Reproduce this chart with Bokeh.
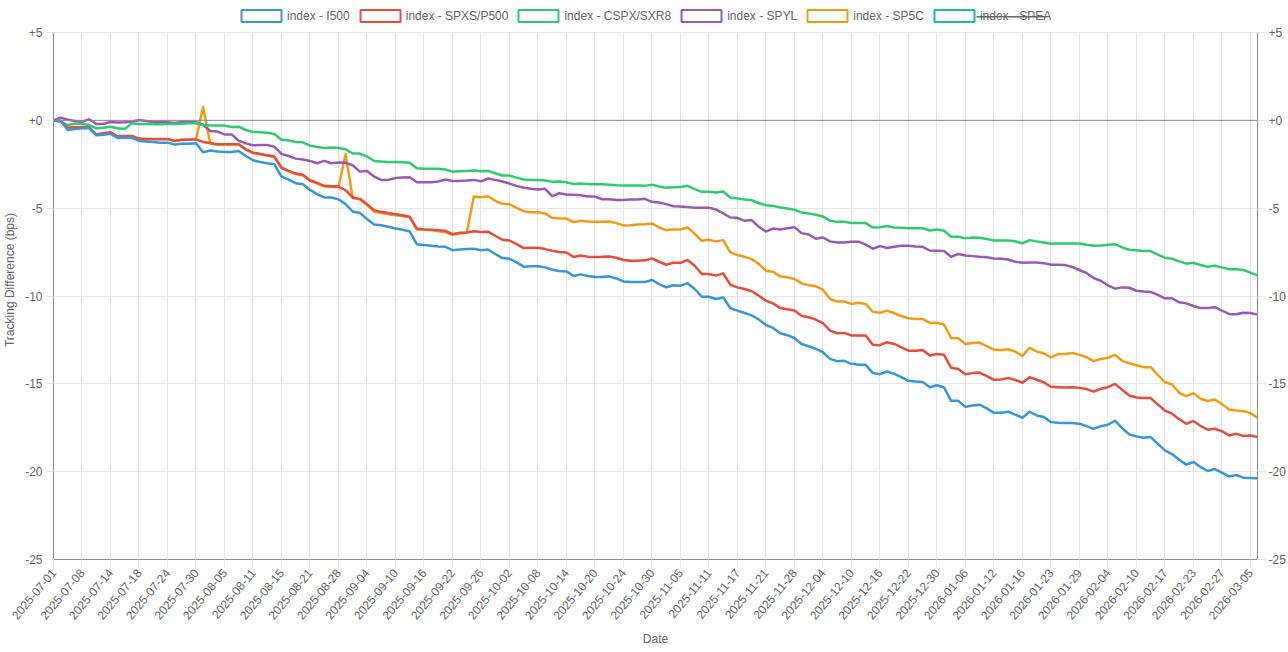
import math
import pandas as pd
from bokeh.plotting import figure
from bokeh.models import (Range1d, FixedTicker, LinearAxis, Span, Legend, LegendItem, BoxAnnotation)
from bokeh.embed import file_html
from bokeh.resources import INLINE

# ---------------- data ----------------
closed_days = ["2025-07-04", "2025-08-25", "2025-09-01", "2025-11-27", "2025-12-25",
               "2025-12-26", "2026-01-01", "2026-01-19", "2026-02-16"]
dates = [d.strftime("%Y-%m-%d") for d in pd.bdate_range("2025-07-01", "2026-03-06")
         if d.strftime("%Y-%m-%d") not in closed_days]

i500 = [
    0, -0.04, -0.55, -0.5, -0.45, -0.45, -0.85, -0.82, -0.76, -1.0,
    -0.98, -1.0, -1.17, -1.21, -1.23, -1.27, -1.27, -1.38, -1.33, -1.33,
    -1.31, -1.82, -1.72, -1.78, -1.8, -1.8, -1.74, -2.03, -2.27, -2.37,
    -2.44, -2.5, -3.2, -3.37, -3.58, -3.64, -3.96, -4.2, -4.39, -4.39,
    -4.5, -4.77, -5.19, -5.27, -5.62, -5.93, -5.97, -6.06, -6.16, -6.23,
    -6.33, -7.05, -7.1, -7.14, -7.18, -7.2, -7.39, -7.35, -7.33, -7.31,
    -7.39, -7.35, -7.61, -7.84, -7.88, -8.09, -8.33, -8.31, -8.31, -8.37,
    -8.5, -8.58, -8.6, -8.86, -8.77, -8.86, -8.92, -8.92, -8.88, -9.0,
    -9.17, -9.2, -9.2, -9.2, -9.09, -9.32, -9.51, -9.39, -9.41, -9.28,
    -9.6, -10.04, -10.04, -10.17, -10.08, -10.7, -10.83, -10.97, -11.1, -11.34,
    -11.65, -11.82, -12.12, -12.23, -12.39, -12.73, -12.86, -13.01, -13.2, -13.58,
    -13.71, -13.69, -13.86, -13.92, -13.92, -14.38, -14.45, -14.3, -14.43, -14.62,
    -14.83, -14.87, -14.89, -15.19, -15.08, -15.21, -15.97, -15.97, -16.31, -16.23,
    -16.19, -16.4, -16.65, -16.65, -16.59, -16.75, -16.93, -16.59, -16.8, -16.89,
    -17.18, -17.22, -17.23, -17.23, -17.27, -17.41, -17.56, -17.41, -17.33, -17.1,
    -17.52, -17.88, -17.99, -18.07, -18.03, -18.41, -18.79, -19.0, -19.32, -19.6,
    -19.45, -19.73, -19.96, -19.85, -20.06, -20.27, -20.19, -20.34, -20.36, -20.38,
]
spxs_p500 = [
    0, -0.04, -0.42, -0.4, -0.38, -0.4, -0.8, -0.74, -0.68, -0.91,
    -0.89, -0.89, -1.04, -1.06, -1.06, -1.06, -1.06, -1.17, -1.1, -1.1,
    -1.08, -1.23, -1.29, -1.36, -1.36, -1.36, -1.36, -1.65, -1.84, -1.91,
    -1.99, -2.06, -2.69, -2.88, -3.03, -3.1, -3.41, -3.56, -3.73, -3.75,
    -3.77, -3.98, -4.39, -4.47, -4.77, -5.11, -5.21, -5.28, -5.34, -5.4,
    -5.49, -6.16, -6.21, -6.23, -6.25, -6.29, -6.48, -6.4, -6.38, -6.31,
    -6.36, -6.34, -6.57, -6.8, -6.84, -7.05, -7.27, -7.25, -7.25, -7.33,
    -7.42, -7.5, -7.52, -7.78, -7.69, -7.77, -7.78, -7.77, -7.75, -7.82,
    -7.95, -7.99, -7.99, -7.97, -7.86, -8.05, -8.22, -8.11, -8.11, -7.95,
    -8.28, -8.75, -8.75, -8.84, -8.71, -9.36, -9.51, -9.6, -9.73, -9.98,
    -10.27, -10.42, -10.68, -10.76, -10.83, -11.12, -11.21, -11.34, -11.55, -11.97,
    -12.12, -12.1, -12.25, -12.25, -12.25, -12.77, -12.8, -12.63, -12.73, -12.92,
    -13.11, -13.11, -13.07, -13.39, -13.3, -13.35, -14.09, -14.15, -14.45, -14.39,
    -14.36, -14.56, -14.77, -14.75, -14.66, -14.78, -14.94, -14.62, -14.77, -14.91,
    -15.17, -15.19, -15.21, -15.19, -15.23, -15.3, -15.44, -15.28, -15.19, -15.0,
    -15.34, -15.66, -15.78, -15.81, -15.81, -16.17, -16.52, -16.7, -17.01, -17.27,
    -17.12, -17.39, -17.61, -17.56, -17.69, -17.94, -17.84, -17.97, -17.94, -18.03,
]
cspx_sxr8 = [
    0, -0.08, -0.27, -0.19, -0.19, -0.27, -0.45, -0.42, -0.36, -0.45,
    -0.49, -0.17, -0.21, -0.21, -0.23, -0.23, -0.21, -0.21, -0.19, -0.17,
    -0.17, -0.27, -0.3, -0.3, -0.3, -0.38, -0.36, -0.55, -0.66, -0.68,
    -0.7, -0.78, -1.1, -1.14, -1.23, -1.25, -1.44, -1.52, -1.57, -1.55,
    -1.57, -1.65, -1.89, -1.89, -2.06, -2.31, -2.35, -2.37, -2.37, -2.39,
    -2.42, -2.73, -2.75, -2.75, -2.75, -2.8, -2.92, -2.9, -2.88, -2.86,
    -2.9, -2.88, -3.01, -3.14, -3.14, -3.26, -3.37, -3.39, -3.39, -3.43,
    -3.5, -3.48, -3.52, -3.62, -3.6, -3.62, -3.64, -3.64, -3.66, -3.69,
    -3.71, -3.71, -3.71, -3.73, -3.66, -3.77, -3.84, -3.81, -3.79, -3.73,
    -3.92, -4.07, -4.07, -4.11, -4.05, -4.39, -4.45, -4.51, -4.55, -4.72,
    -4.83, -4.87, -4.96, -5.02, -5.09, -5.25, -5.3, -5.38, -5.47, -5.72,
    -5.78, -5.78, -5.85, -5.85, -5.85, -6.1, -6.08, -6.02, -6.1, -6.12,
    -6.14, -6.14, -6.14, -6.27, -6.21, -6.29, -6.63, -6.63, -6.72, -6.67,
    -6.69, -6.76, -6.84, -6.84, -6.84, -6.88, -7.01, -6.82, -6.89, -6.95,
    -7.03, -7.01, -7.01, -7.01, -7.01, -7.08, -7.14, -7.12, -7.08, -7.05,
    -7.23, -7.37, -7.39, -7.44, -7.44, -7.65, -7.82, -7.88, -8.03, -8.16,
    -8.11, -8.24, -8.33, -8.28, -8.37, -8.48, -8.47, -8.52, -8.67, -8.83,
]
spyl = [
    0, 0.15, 0.04, -0.04, -0.09, 0.06, -0.21, -0.19, -0.09, -0.13,
    -0.11, -0.08, 0.02, -0.04, -0.09, -0.09, -0.11, -0.15, -0.09, -0.09,
    -0.11, -0.25, -0.61, -0.64, -0.8, -0.8, -1.16, -1.31, -1.42, -1.4,
    -1.4, -1.5, -1.91, -2.03, -2.18, -2.23, -2.31, -2.44, -2.31, -2.44,
    -2.4, -2.42, -2.56, -2.92, -2.88, -3.2, -3.39, -3.39, -3.28, -3.26,
    -3.24, -3.52, -3.52, -3.52, -3.48, -3.37, -3.45, -3.45, -3.43, -3.39,
    -3.47, -3.31, -3.39, -3.48, -3.6, -3.73, -3.84, -3.9, -3.94, -3.9,
    -4.32, -4.15, -4.22, -4.24, -4.26, -4.34, -4.34, -4.49, -4.49, -4.53,
    -4.53, -4.51, -4.51, -4.47, -4.64, -4.68, -4.77, -4.89, -4.91, -4.93,
    -4.97, -4.98, -4.98, -5.08, -5.3, -5.53, -5.55, -5.72, -5.68, -6.06,
    -6.33, -6.16, -6.21, -6.14, -6.08, -6.42, -6.5, -6.74, -6.67, -6.89,
    -6.95, -6.95, -6.91, -6.91, -7.08, -7.31, -7.16, -7.27, -7.2, -7.14,
    -7.14, -7.18, -7.2, -7.41, -7.42, -7.44, -7.77, -7.61, -7.69, -7.73,
    -7.77, -7.8, -7.86, -7.88, -7.92, -8.05, -8.11, -8.09, -8.09, -8.13,
    -8.22, -8.22, -8.24, -8.35, -8.52, -8.69, -8.98, -9.13, -9.39, -9.58,
    -9.51, -9.53, -9.7, -9.75, -9.77, -9.94, -10.13, -10.13, -10.36, -10.42,
    -10.57, -10.68, -10.68, -10.64, -10.83, -11.02, -11.04, -10.95, -10.97, -11.06,
]
sp5c = [
    0, -0.04, -0.43, -0.41, -0.39, -0.41, -0.81, -0.75, -0.69, -0.92,
    -0.9, -0.9, -1.05, -1.07, -1.07, -1.07, -1.07, -1.18, -1.11, -1.11,
    -1.09, 0.76, -1.33, -1.38, -1.38, -1.38, -1.37, -1.67, -1.86, -1.93,
    -2.01, -2.08, -2.72, -2.91, -3.06, -3.13, -3.44, -3.59, -3.76, -3.78,
    -3.8, -1.93, -4.42, -4.5, -4.8, -5.19, -5.27, -5.34, -5.4, -5.45,
    -5.51, -6.21, -6.23, -6.25, -6.31, -6.36, -6.52, -6.44, -6.4, -4.34,
    -4.38, -4.32, -4.58, -4.75, -4.77, -4.98, -5.17, -5.23, -5.23, -5.3,
    -5.55, -5.59, -5.59, -5.8, -5.72, -5.76, -5.78, -5.78, -5.76, -5.85,
    -5.98, -5.97, -5.93, -5.91, -5.87, -6.1, -6.25, -6.21, -6.21, -6.1,
    -6.45, -6.86, -6.8, -6.89, -6.82, -7.52, -7.67, -7.77, -7.9, -8.18,
    -8.56, -8.62, -8.88, -8.94, -9.03, -9.28, -9.39, -9.45, -9.64, -10.17,
    -10.32, -10.32, -10.45, -10.38, -10.45, -10.89, -10.95, -10.83, -10.98, -11.14,
    -11.27, -11.31, -11.31, -11.53, -11.52, -11.63, -12.39, -12.41, -12.73, -12.67,
    -12.65, -12.86, -13.05, -13.09, -13.03, -13.17, -13.41, -12.95, -13.16, -13.26,
    -13.5, -13.31, -13.3, -13.24, -13.35, -13.48, -13.71, -13.58, -13.52, -13.35,
    -13.69, -13.83, -13.94, -14.05, -14.05, -14.49, -14.91, -15.04, -15.51, -15.7,
    -15.53, -15.85, -15.98, -15.89, -16.14, -16.46, -16.52, -16.55, -16.67, -16.93,
]
spea = []  # hidden series (struck through in the legend)

series_names = ["index - I500", "index - SPXS/P500", "index - CSPX/SXR8",
                "index - SPYL", "index - SP5C", "index - SPEA"]
series_values = [i500, spxs_p500, cspx_sxr8, spyl, sp5c, spea]
series_colors = ["#3498db", "#e74c3c", "#2ecc71", "#9b59b6", "#f39c12", "#1abc9c"]
series_visible = [True, True, True, True, True, False]

y_ticks = [-25, -20, -15, -10, -5, 0, 5]
y_labels = ["-25", "-20", "-15", "-10", "-5", "+0", "+5"]
x_tick_step = 4

# ---------------- figure ----------------
FONT = "Liberation Sans"
TXT = "#666666"
GRID = "#e6e6e6"
AXIS = "#8a8a8a"

W, H = 1288, 652
BORDER_BOTTOM = 93
LEGEND_BAND = 32          # pixels above the +5 line reserved for the legend
plot_px = H - BORDER_BOTTOM
units_px = (plot_px - LEGEND_BAND) / (y_ticks[-1] - y_ticks[0])
y_top = y_ticks[-1] + LEGEND_BAND / units_px

n = len(dates)
p = figure(width=W, height=H, output_backend="svg", toolbar_location=None,
           x_range=Range1d(0, n - 1), y_range=Range1d(y_ticks[0], y_top),
           min_border_left=53, min_border_right=31, min_border_top=0,
           min_border_bottom=BORDER_BOTTOM)
p.outline_line_color = None
p.background_fill_color = "white"

x_ticks = list(range(0, n, x_tick_step))
xt = FixedTicker(ticks=x_ticks)
yt = FixedTicker(ticks=y_ticks)
p.xaxis.ticker = xt
p.xgrid.ticker = xt
p.yaxis.ticker = yt
p.ygrid.ticker = yt
p.xgrid.grid_line_color = GRID
p.ygrid.grid_line_color = GRID

grid_limited = True
try:
    p.xgrid[0].cross_bounds = (y_ticks[0], y_ticks[-1])
except Exception:
    grid_limited = False

ax = p.xaxis[0]
ax.major_label_overrides = {i: dates[i] for i in x_ticks}
ax.major_label_orientation = math.radians(50)
ax.axis_label = "Date"

ay = p.yaxis[0]
ay.major_label_overrides = {t: l for t, l in zip(y_ticks, y_labels)}
ay.axis_label = "Tracking Difference (bps)"

ay2 = LinearAxis(ticker=yt, major_label_overrides={t: l for t, l in zip(y_ticks, y_labels)})
p.add_layout(ay2, "right")

for a in [ax, ay, ay2]:
    a.axis_line_color = AXIS
    a.axis_line_width = 1
    a.major_tick_line_color = GRID
    a.major_tick_in = 0
    a.major_tick_out = 8
    a.minor_tick_line_color = None
    a.major_label_text_font = FONT
    a.major_label_text_font_size = "12px"
    a.major_label_text_color = TXT
    a.major_label_standoff = 3
    a.axis_label_text_font = FONT
    a.axis_label_text_font_size = "12px"
    a.axis_label_text_color = TXT
    a.axis_label_text_font_style = "normal"
    a.axis_label_standoff = 2
ax.axis_label_standoff = 6
ay.axis_label_standoff = 5
ay.bounds = (y_ticks[0], y_ticks[-1])
ay2.bounds = (y_ticks[0], y_ticks[-1])

zero = Span(location=0, dimension="width", line_color=AXIS, line_width=1)
p.add_layout(zero)

# lines (first series drawn on top)
for name, vals, col, vis in reversed(list(zip(series_names, series_values, series_colors, series_visible))):
    p.line(x=list(range(len(vals))), y=vals, line_color=col, line_width=2.5,
           line_join="round", visible=vis)

if not grid_limited:
    p.add_layout(BoxAnnotation(bottom=y_ticks[-1], fill_color="white", fill_alpha=1,
                               line_color=None))

# legend swatches: outline boxes (their glyphs hold no drawable point)
items = []
for name, col in zip(series_names, series_colors):
    box = p.quad(left=[math.nan], right=[math.nan], top=[math.nan], bottom=[math.nan],
                 fill_color="white", line_color=col, line_width=2)
    items.append(LegendItem(label=name, renderers=[box]))

legend = Legend(items=items, orientation="horizontal", location=(183, plot_px - 23.2),
                glyph_width=50, glyph_height=15, label_standoff=1, spacing=5,
                padding=0, margin=0, label_height=15,
                border_line_color=None, background_fill_alpha=0,
                label_text_font=FONT, label_text_font_size="12px", label_text_color=TXT)
p.add_layout(legend)

# strike-through over the hidden series' legend label
strike = BoxAnnotation(left=976, right=1047, top=15.6, bottom=16.9,
                       left_units="canvas", right_units="canvas",
                       top_units="canvas", bottom_units="canvas",
                       fill_color=TXT, fill_alpha=1, line_color=None)
p.add_layout(strike)

open("out.html", "w").write(file_html(p, INLINE))
